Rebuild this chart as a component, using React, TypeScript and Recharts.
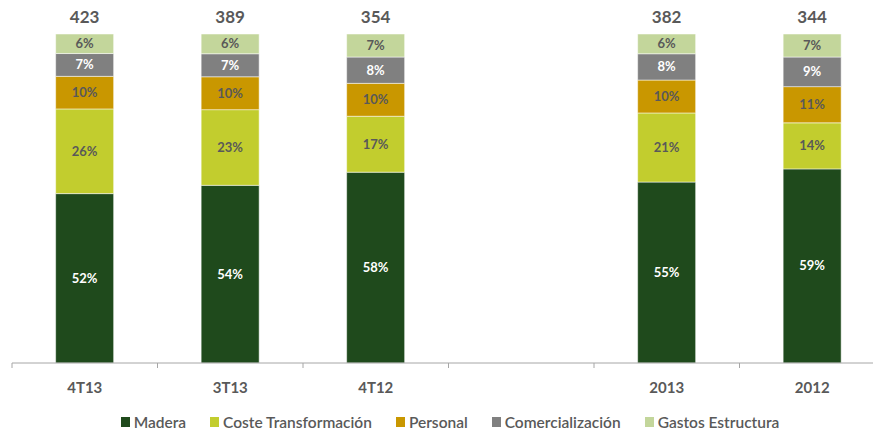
import React from "react";
import { BarChart, Bar, XAxis, YAxis, LabelList, Legend } from "recharts";

const categories = ["4T13", "3T13", "4T12", "", "2013", "2012"];
const totals = [423, 389, 354, null, 382, 344];
const madera = [52, 54, 58, null, 55, 59];
const costeTransformacion = [26, 23, 17, null, 21, 14];
const personal = [10, 10, 10, null, 10, 11];
const comercializacion = [7, 7, 8, null, 8, 9];
const gastosEstructura = [6, 6, 7, null, 6, 7];

const series = [
  { key: "madera", name: "Madera", color: "#1F4A1C", text: "#FFFFFF" },
  { key: "coste", name: "Coste Transformación", color: "#C2CD2E", text: "#595959" },
  { key: "personal", name: "Personal", color: "#C99700", text: "#595959" },
  { key: "comercializacion", name: "Comercialización", color: "#808080", text: "#FFFFFF" },
  { key: "gastos", name: "Gastos Estructura", color: "#C3D69B", text: "#595959" },
];

const data = categories.map((c, i) => ({
  name: c,
  total: totals[i],
  madera: madera[i],
  coste: costeTransformacion[i],
  personal: personal[i],
  comercializacion: comercializacion[i],
  gastos: gastosEstructura[i],
}));

const FONT = "Lato, 'Open Sans', sans-serif";
const HALF_BAND = 72.75;

const Tick = (props: any) => {
  const { x, y, payload } = props;
  return (
    <g>
      <line x1={x - HALF_BAND} x2={x - HALF_BAND} y1={y - 5} y2={y} stroke="#A6A6A6" strokeWidth={1} />
      <text x={x} y={y + 25} textAnchor="middle" fontFamily={FONT} fontWeight={700} fontSize={15} fill="#595959">
        {payload.value}
      </text>
    </g>
  );
};

const segLabel = (color: string) => (props: any) => {
  const { x, y, width, height, value } = props;
  if (value == null || value === "") return null;
  return (
    <text
      x={x + width / 2}
      y={y + height / 2 + 4.5}
      textAnchor="middle"
      fontFamily={FONT}
      fontWeight={700}
      fontSize={13}
      fill={color}
    >
      {value}%
    </text>
  );
};

const totalLabel = (props: any) => {
  const { x, y, width, value } = props;
  if (value == null || value === "") return null;
  return (
    <text x={x + width / 2} y={y - 11} textAnchor="middle" fontFamily={FONT} fontWeight={700} fontSize={17} fill="#595959">
      {value}
    </text>
  );
};

const LegendContent = () => (
  <div
    style={{
      height: 37,
      paddingTop: 20,
      boxSizing: "border-box",
      display: "flex",
      justifyContent: "center",
      alignItems: "center",
      fontFamily: FONT,
      fontSize: 15.5,
      fontWeight: 600,
      color: "#595959",
      lineHeight: "16px",
    }}
  >
    {series.map((s) => (
      <div key={s.key} style={{ display: "flex", alignItems: "center", margin: "0 12px" }}>
        <span style={{ display: "inline-block", width: 9, height: 10, background: s.color, marginRight: 4 }} />
        <span>{s.name}</span>
      </div>
    ))}
  </div>
);

export default function App() {
  return (
    <div style={{ position: "absolute", left: 0, top: 0, width: 873, height: 430, overflow: "hidden", background: "#fff" }}>
      <BarChart
        width={900}
        height={430}
        data={data}
        stackOffset="expand"
        margin={{ top: 34, right: 15, left: 12, bottom: 0 }}
        barCategoryGap="30%"
      >
        <XAxis
          dataKey="name"
          height={30}
          tickLine={false}
          tickSize={5}
          tickMargin={0}
          axisLine={{ stroke: "#A6A6A6" }}
          tick={<Tick />}
          interval={0}
        />
        <YAxis hide domain={[0, 1]} />
        <Legend
          verticalAlign="bottom"
          height={37}
          content={<LegendContent />}
          wrapperStyle={{ left: 0, width: 900, bottom: 0 }}
        />
        {series.map((s, idx) => (
          <Bar
            key={s.key}
            dataKey={s.key}
            name={s.name}
            stackId="a"
            fill={s.color}
            stroke="#FFFFFF"
            strokeOpacity={0.5}
            strokeWidth={1}
            isAnimationActive={false}
          >
            <LabelList dataKey={s.key} content={segLabel(s.text)} />
            {idx === series.length - 1 && <LabelList dataKey="total" content={totalLabel} />}
          </Bar>
        ))}
      </BarChart>
    </div>
  );
}
